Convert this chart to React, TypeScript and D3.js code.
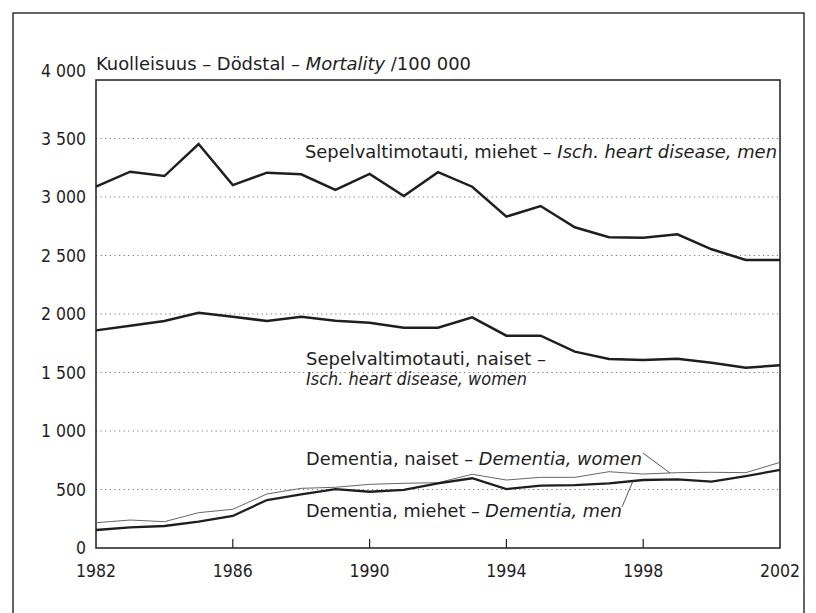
import React from "react";
import * as d3 from "d3";

const years = [1982, 1983, 1984, 1985, 1986, 1987, 1988, 1989, 1990, 1991, 1992, 1993, 1994, 1995, 1996, 1997, 1998, 1999, 2000, 2001, 2002];
const heartMen = [3088, 3216, 3179, 3453, 3102, 3208, 3194, 3060, 3197, 3009, 3212, 3088, 2832, 2923, 2741, 2656, 2652, 2681, 2553, 2462, 2462];
const heartWomen = [1860, 1900, 1940, 2011, 1977, 1940, 1977, 1943, 1926, 1883, 1883, 1972, 1815, 1815, 1678, 1615, 1607, 1618, 1584, 1541, 1561];
const dementiaWomen = [216, 239, 225, 302, 331, 462, 510, 519, 544, 553, 558, 630, 581, 604, 604, 652, 632, 644, 647, 644, 732];
const dementiaMen = [154, 177, 188, 225, 274, 410, 459, 504, 481, 496, 553, 596, 504, 533, 538, 553, 581, 587, 567, 615, 667];
const yTicks = [0, 500, 1000, 1500, 2000, 2500, 3000, 3500, 4000];
const xTickLabels = [1982, 1986, 1990, 1994, 1998, 2002];
const innerTicks = [1986, 1990, 1994, 1998];

const FONT = "'DejaVu Sans Condensed', 'Liberation Sans Narrow', 'Roboto Condensed', sans-serif";

export default function App() {
  const left = 96, right = 780, top = 80, bottom = 548;
  const x = d3.scaleLinear().domain([1982, 2002]).range([left, right]);
  const y = d3.scaleLinear().domain([0, 4000]).range([bottom, top]);
  const line = d3.line<number>().x((_, i) => x(years[i])).y((v) => y(v));
  const fmt = (v: number) => d3.format(",")(v).replace(/,/g, " ");
  const ink = "#1e1e1e";
  const fs = 18.5;

  return (
    <svg width={816} height={613} style={{ position: "fixed", left: 0, top: 0, background: "#fff" }} fontFamily={FONT}>
      <rect x={0} y={0} width={816} height={613} fill="#fff" />
      <rect x={13} y={13} width={791} height={620} fill="none" stroke="#333" strokeWidth={1.5} />
      {yTicks.filter((t) => t > 0 && t < 4000).map((t) => (
        <line key={t} x1={left} x2={right} y1={y(t)} y2={y(t)} stroke="#777" strokeWidth={1} strokeDasharray="1.2 3.4" />
      ))}
      <rect x={left} y={top} width={right - left} height={bottom - top} fill="none" stroke={ink} strokeWidth={1.5} />
      {innerTicks.map((t) => (
        <line key={t} x1={x(t)} x2={x(t)} y1={bottom} y2={bottom - 9} stroke={ink} strokeWidth={1.2} />
      ))}
      {yTicks.map((t) => (
        <text key={t} x={86} y={y(t) + (t === 4000 ? -9 : 0)} dy="0.35em" textAnchor="end" fontSize={17.5} fill={ink}>
          {fmt(t)}
        </text>
      ))}
      {xTickLabels.map((t) => (
        <text key={t} x={x(t)} y={577} textAnchor="middle" fontSize={17.5} fill={ink}>
          {t}
        </text>
      ))}
      <text x={96} y={70} fontSize={fs} fill={ink} textLength={375} lengthAdjust="spacingAndGlyphs">
        Kuolleisuus – Dödstal – <tspan fontStyle="italic">Mortality</tspan> /100 000
      </text>

      <path d={line(dementiaWomen) || ""} fill="none" stroke="#666" strokeWidth={1} />
      <path d={line(dementiaMen) || ""} fill="none" stroke={ink} strokeWidth={2.3} />
      <path d={line(heartWomen) || ""} fill="none" stroke={ink} strokeWidth={2.5} />
      <path d={line(heartMen) || ""} fill="none" stroke={ink} strokeWidth={2.5} />

      <text x={305} y={158} fontSize={fs} fill={ink} textLength={472} lengthAdjust="spacingAndGlyphs">
        Sepelvaltimotauti, miehet – <tspan fontStyle="italic">Isch. heart disease, men</tspan>
      </text>
      <text x={306} y={365} fontSize={17} fill={ink} textLength={240} lengthAdjust="spacingAndGlyphs">Sepelvaltimotauti, naiset –</text>
      <text x={306} y={384.5} fontSize={17} fontStyle="italic" fill={ink} textLength={221} lengthAdjust="spacingAndGlyphs">Isch. heart disease, women</text>

      <text x={306} y={465} fontSize={fs} fill={ink} textLength={336} lengthAdjust="spacingAndGlyphs">
        Dementia, naiset – <tspan fontStyle="italic">Dementia, women</tspan>
      </text>
      <line x1={643} y1={453} x2={670} y2={473} stroke="#444" strokeWidth={0.9} />
      <text x={306} y={517} fontSize={fs} fill={ink} textLength={316} lengthAdjust="spacingAndGlyphs">
        Dementia, miehet – <tspan fontStyle="italic">Dementia, men</tspan>
      </text>
      <line x1={622} y1={507} x2={633} y2={481} stroke="#444" strokeWidth={0.9} />
    </svg>
  );
}
